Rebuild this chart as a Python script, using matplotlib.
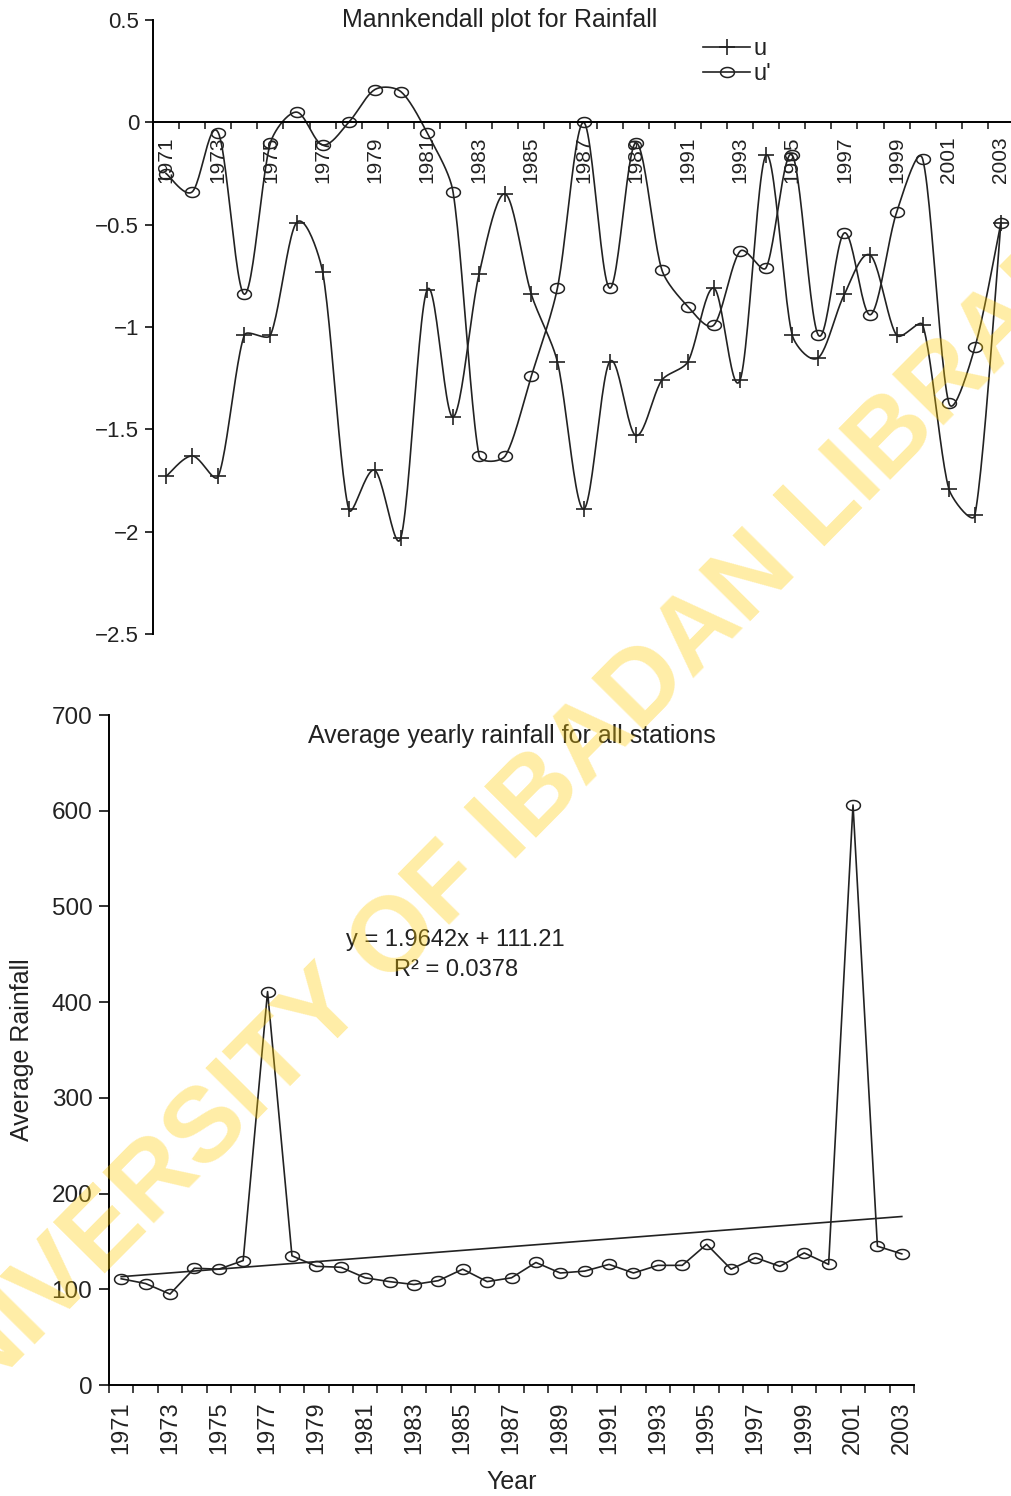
import numpy as np
import matplotlib
matplotlib.use("Agg")
import matplotlib.pyplot as plt
from matplotlib.lines import Line2D
from matplotlib.path import Path
from matplotlib.ticker import FuncFormatter, FixedLocator

plt.rcParams['font.family'] = ['Liberation Sans', 'DejaVu Sans']

# data
years = list(range(1971, 2004))
u = [-1.73, -1.63, -1.73, -1.04, -1.04, -0.49, -0.73, -1.89, -1.70, -2.03,
     -0.82, -1.44, -0.74, -0.35, -0.84, -1.17, -1.89, -1.17, -1.53, -1.26,
     -1.17, -0.81, -1.26, -0.16, -1.04, -1.15, -0.84, -0.65, -1.04, -0.99,
     -1.79, -1.92, -0.49]
u_prime = [-0.25, -0.34, -0.05, -0.84, -0.10, 0.05, -0.11, 0.00, 0.16, 0.15,
           -0.05, -0.34, -1.63, -1.63, -1.24, -0.81, 0.00, -0.81, -0.10, -0.72,
           -0.90, -0.99, -0.63, -0.71, -0.16, -1.04, -0.54, -0.94, -0.44, -0.18,
           -1.37, -1.10, -0.49]
rainfall = [111, 106, 95, 122, 121, 130, 411, 135, 124, 123,
            112, 108, 105, 109, 121, 108, 112, 128, 117, 119,
            126, 117, 125, 125, 147, 121, 133, 124, 138, 126,
            606, 145, 137]
slope, intercept, r2 = 1.9642, 111.21, 0.0378


def smooth(ax, x, y, n=25, lim=0.3):
    # excel style smoothed line, worked out in screen space
    tr = ax.transData
    p = tr.transform(np.column_stack([x, y]).astype(float))
    out = []
    t = np.linspace(0, 1, n)[:, None]
    for i in range(len(p) - 1):
        p0 = p[max(i - 1, 0)]
        p1 = p[i]
        p2 = p[i + 1]
        p3 = p[min(i + 2, len(p) - 1)]
        seg = np.hypot(*(p2 - p1))
        d1 = (p2 - p0) / 6
        d2 = (p3 - p1) / 6
        for d in (d1, d2):
            l = np.hypot(*d)
            if l > lim * seg:
                d *= lim * seg / l
        c1 = p1 + d1
        c2 = p2 - d2
        b = (1 - t)**3 * p1 + 3 * (1 - t)**2 * t * c1 + 3 * (1 - t) * t**2 * c2 + t**3 * p2
        out.append(b if i == 0 else b[1:])
    b = tr.inverted().transform(np.vstack(out))
    return b[:, 0], b[:, 1]


th = np.linspace(0, 2 * np.pi, 40)
ellipse = Path(np.column_stack([np.cos(th), 0.72 * np.sin(th)]))
ink = '#222222'

W, H = 1011, 1496
fig = plt.figure(figsize=(W / 100, H / 100), dpi=100)
pos = np.arange(len(years))
lab_pos = pos[::2]
lab_txt = [str(y) for y in years[::2]]

# ---------- top: Mann-Kendall ----------
ax1 = fig.add_axes([153 / W, 1 - 634 / H, 861 / W, 614 / H])
ax1.set_xlim(-0.5, len(years) - 0.5)
ax1.set_ylim(-2.5, 0.5)
for s in ['top', 'right']:
    ax1.spines[s].set_visible(False)
ax1.spines['bottom'].set_position(('data', 0))
ax1.spines['bottom'].set_linewidth(1.4)
ax1.spines['left'].set_linewidth(1.4)

xs, ys = smooth(ax1, pos, u)
ax1.plot(xs, ys, color=ink, lw=1.2)
ax1.plot(pos, u, ls='none', marker='+', ms=11, mew=1.2, color=ink)
xs, ys = smooth(ax1, pos, u_prime)
ax1.plot(xs, ys, color=ink, lw=1.2)
ax1.plot(pos, u_prime, ls='none', marker=ellipse, ms=10, mew=1.1, mfc='none', mec=ink)

ax1.set_yticks([0.5, 0, -0.5, -1, -1.5, -2, -2.5])
ax1.yaxis.set_major_formatter(FuncFormatter(lambda v, p: ('%g' % v).replace('-', '\u2212')))
ax1.tick_params(axis='y', direction='out', length=6, width=1.3, pad=4, labelsize=16,
                colors=ink)
ax1.set_xticks(lab_pos)
ax1.set_xticklabels(lab_txt, rotation=90)
ax1.xaxis.set_minor_locator(FixedLocator(np.arange(-0.5, len(years), 1.0)))
ax1.tick_params(axis='x', which='major', length=0, pad=10, labelsize=15, colors=ink)
ax1.tick_params(axis='x', which='minor', direction='out', length=5, width=1.2, color=ink)

fig.text(500 / W, 1 - 20 / H, 'Mannkendall plot for Rainfall', ha='center', va='center',
         fontsize=18, color=ink)

handles = [Line2D([], [], color=ink, lw=1.2, marker='+', ms=11, mew=1.2),
           Line2D([], [], color=ink, lw=1.2, marker=ellipse, ms=10, mew=1.1,
                  mfc='none', mec=ink)]
fig.legend(handles, ['u', "u'"], loc='upper left', bbox_to_anchor=(703 / W, 1 - 38 / H),
           frameon=False, fontsize=17, handlelength=2.0, handletextpad=0.15,
           labelspacing=0.12, borderpad=0, borderaxespad=0, labelcolor=ink)

# ---------- bottom: average yearly rainfall ----------
ax2 = fig.add_axes([109 / W, 1 - 1385 / H, 805 / W, 670 / H])
ax2.set_xlim(-0.5, len(years) - 0.5)
ax2.set_ylim(0, 700)
for s in ['top', 'right']:
    ax2.spines[s].set_visible(False)
ax2.spines['bottom'].set_linewidth(1.4)
ax2.spines['left'].set_linewidth(1.4)

ax2.plot(pos, rainfall, color=ink, lw=1.2, marker=ellipse, ms=10, mew=1.1,
         mfc='none', mec=ink)
trend = slope * (pos + 1) + intercept
ax2.plot(pos, trend, color=ink, lw=1.2)

ax2.set_yticks(np.arange(0, 701, 100))
ax2.tick_params(axis='y', direction='out', length=7, width=1.3, pad=5, labelsize=17.5,
                colors=ink)
ax2.set_xticks(lab_pos)
ax2.set_xticklabels(lab_txt, rotation=90)
ax2.xaxis.set_minor_locator(FixedLocator(np.arange(-0.5, len(years), 1.0)))
ax2.tick_params(axis='x', which='major', length=0, pad=12, labelsize=17, colors=ink)
ax2.tick_params(axis='x', which='minor', direction='out', length=6, width=1.2, color=ink)

ax2.text(0.5, (1385 - 736) / 670, 'Average yearly rainfall for all stations',
         transform=ax2.transAxes, ha='center', va='center', fontsize=18, color=ink)
fig.text(455 / W, 1 - 940 / H, 'y = %.4fx + %.2f' % (slope, intercept), ha='center',
         va='center', fontsize=17, color=ink)
fig.text(456 / W, 1 - 970 / H, 'R\u00b2 = %.4f' % r2, ha='center', va='center',
         fontsize=17, color=ink)
fig.text(22 / W, 1 - 1050 / H, 'Average Rainfall', rotation=90, ha='center', va='center',
         fontsize=18, color=ink)
fig.text(512 / W, 1 - 1482 / H, 'Year', ha='center', va='center', fontsize=18, color=ink)

# watermark
fig.text(516 / W, 1 - 820 / H, 'UNIVERSITY OF IBADAN LIBRARY', rotation=45.3,
         rotation_mode='anchor', ha='center', va='center', fontsize=76,
         fontweight='bold', color=(1.0, 0.8, 0.0), alpha=0.35, zorder=10)

fig.savefig('out.png', dpi=100)
